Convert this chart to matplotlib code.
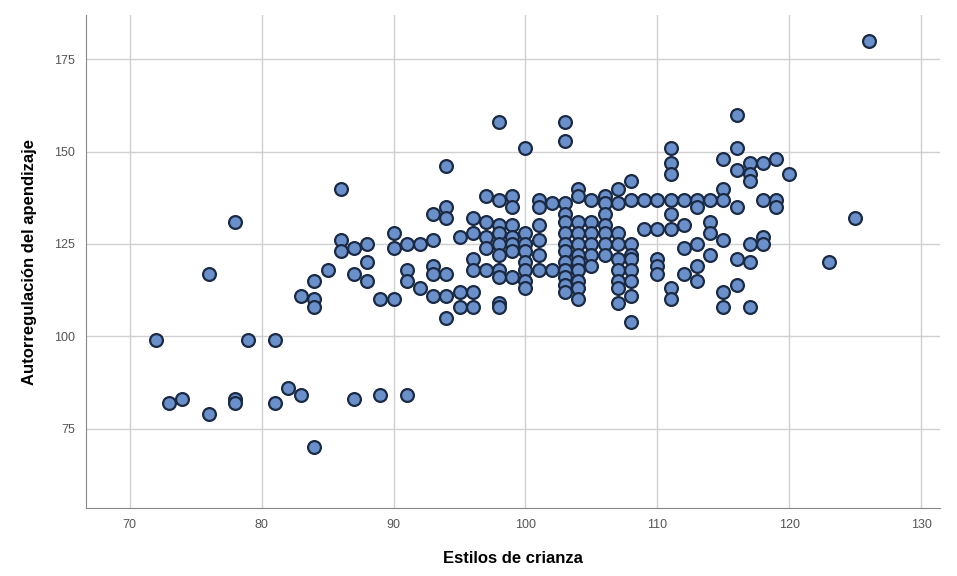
import matplotlib
matplotlib.use("Agg")
import matplotlib.pyplot as plt

# data: x value -> list of y values at that x
x_vals = [72, 73, 74, 76, 78, 79, 81, 82, 83, 84, 85, 86, 87, 88, 89, 90, 91, 92, 93, 94,
          95, 96, 97, 98, 99, 100, 101, 102, 103, 104, 105, 106, 107, 108, 109, 110, 111,
          112, 113, 114, 115, 116, 117, 118, 119, 120, 123, 125, 126]
y_lists = [
    [99],
    [82],
    [83],
    [79, 117],
    [131, 83, 82],
    [99],
    [99, 82],
    [86],
    [84, 111],
    [70, 115, 110, 108],
    [118],
    [140, 126, 123],
    [124, 117, 83],
    [125, 120, 115],
    [110, 84],
    [128, 124, 110],
    [125, 118, 115, 84],
    [125, 113],
    [133, 126, 119, 117, 111],
    [146, 135, 132, 117, 111, 105],
    [127, 112, 108],
    [132, 128, 121, 118, 112, 108],
    [138, 131, 127, 124, 118],
    [158, 137, 130, 128, 125, 122, 118, 116, 109, 108],
    [138, 135, 130, 127, 125, 123, 116],
    [151, 128, 125, 123, 120, 118, 115, 113],
    [137, 135, 130, 126, 122, 118],
    [136, 118],
    [158, 153, 136, 133, 131, 128, 125, 123, 120, 118, 116, 114, 112],
    [140, 138, 131, 128, 125, 122, 120, 118, 115, 113, 110],
    [137, 131, 128, 125, 122, 119],
    [138, 136, 133, 130, 128, 125, 122],
    [140, 136, 128, 125, 121, 118, 115, 113, 109],
    [142, 137, 125, 122, 121, 118, 115, 111, 104],
    [137, 129],
    [137, 129, 121, 119, 117],
    [151, 147, 144, 137, 133, 129, 113, 110],
    [137, 130, 124, 117],
    [137, 135, 125, 119, 115],
    [137, 131, 128, 122],
    [148, 140, 137, 126, 112, 108],
    [160, 151, 145, 135, 121, 114],
    [147, 144, 142, 125, 120, 108],
    [147, 137, 127, 125],
    [148, 137, 135],
    [144],
    [120],
    [132],
    [180],
]

xs = []
ys = []
for xv, yl in zip(x_vals, y_lists):
    for yv in yl:
        xs.append(xv)
        ys.append(yv)

x_ticks = [70, 80, 90, 100, 110, 120, 130]
y_ticks = [75, 100, 125, 150, 175]

plt.rcParams['font.family'] = ['Liberation Sans', 'DejaVu Sans']

fig = plt.figure(figsize=(9.57, 5.76), dpi=100)
ax = fig.add_axes([0.09, 0.118, 0.892, 0.856])

ax.scatter(xs, ys, s=85, facecolor='#6b8fc8', edgecolor='#1b2a44', linewidth=1.6, zorder=3)

ax.set_xlim(66.7, 131.4)
ax.set_ylim(53.5, 187)
ax.set_xticks(x_ticks)
ax.set_yticks(y_ticks)
ax.grid(True, color='#d0d0d0', linewidth=1)
ax.set_axisbelow(True)
ax.tick_params(length=0, labelsize=9, colors='#555555', pad=8)

for s in ['top', 'right']:
    ax.spines[s].set_visible(False)
for s in ['left', 'bottom']:
    ax.spines[s].set_color('#888888')

ax.set_xlabel('Estilos de crianza', fontsize=12, fontweight='bold', labelpad=14)
ax.set_ylabel('Autorregulación del apendizaje', fontsize=12, fontweight='bold', labelpad=12)

plt.savefig('out.png', dpi=100)
